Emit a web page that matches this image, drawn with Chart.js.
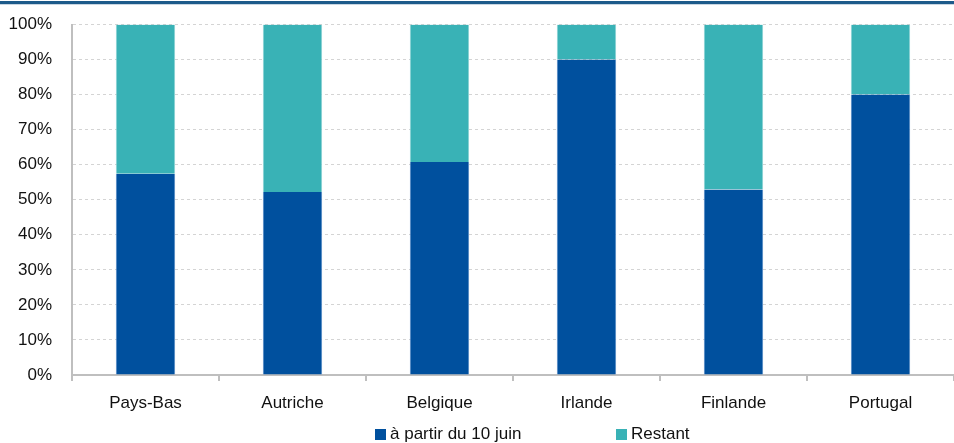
<!DOCTYPE html>
<html lang="fr">
<head>
<meta charset="utf-8">
<script src="https://cdn.jsdelivr.net/npm/chart.js@4/dist/chart.umd.min.js"></script>
<style>
  html, body { margin: 0; padding: 0; background: #fff; }
  #wrap { position: relative; width: 954px; height: 443px; overflow: hidden; }
  #topline { position: absolute; left: 0; right: 0; top: 1px; height: 3px; background: #1d5a8a; border-bottom: 1px solid #c9d6e2; }
  #legend { position: absolute; top: 424px; left: 0; width: 954px; height: 20px;
    font: 17px "Liberation Sans", Arial, sans-serif; color: #111; }
  .item { position: absolute; top: 0; line-height: 20px; white-space: nowrap; }
  .box { display: inline-block; width: 11px; height: 11px; margin-right: 4px; vertical-align: -1px; }
</style>
</head>
<body>
<div id="wrap">
  <div id="topline"></div>
  <canvas id="chart" width="954" height="443"></canvas>
  <div id="legend"></div>
</div>
<script>
const countries = ["Pays-Bas", "Autriche", "Belgique", "Irlande", "Finlande", "Portugal"];
const fromJune10 = [57.4, 52.2, 60.8, 90.0, 52.9, 80.0];
const remaining = [42.6, 47.8, 39.2, 10.0, 47.1, 20.0];
const seriesNames = ["à partir du 10 juin", "Restant"];

const darkBlue = "#00509e";
const teal = "#39b2b6";
const axisColor = "#bfbfbf";
const textFont = { family: "'Liberation Sans', Arial, sans-serif", size: 17 };

new Chart(document.getElementById("chart"), {
  type: "bar",
  data: {
    labels: countries,
    datasets: [
      {
        label: seriesNames[0],
        data: fromJune10,
        backgroundColor: darkBlue,
        borderColor: "#4f86c2",
        borderWidth: { left: 1, right: 1, top: 0, bottom: 0 },
        barPercentage: 0.404,
        categoryPercentage: 1,
      },
      {
        label: seriesNames[1],
        data: remaining,
        backgroundColor: teal,
        borderColor: "#86d0d2",
        borderWidth: { left: 1, right: 1, top: 0, bottom: 0 },
        barPercentage: 0.404,
        categoryPercentage: 1,
      },
    ],
  },
  options: {
    responsive: false,
    animation: false,
    layout: { padding: { top: 24.5, right: 0, bottom: 0, left: 0 } },
    plugins: {
      legend: { display: false },
      tooltip: { enabled: false },
    },
    scales: {
      x: {
        stacked: true,
        afterFit: function (scale) {
          scale.height = 68;
          scale.paddingLeft = 0;
          scale.paddingRight = 0;
        },
        grid: {
          offset: true,
          drawOnChartArea: false,
          drawTicks: true,
          tickLength: 6,
          color: axisColor,
          lineWidth: 2,
        },
        border: { color: axisColor, width: 2 },
        ticks: { color: "#111", font: textFont, padding: 12, maxRotation: 0 },
      },
      y: {
        stacked: true,
        min: 0,
        max: 100,
        afterFit: function (scale) {
          scale.width = 72;
          scale.paddingTop = 0;
          scale.paddingBottom = 0;
        },
        grid: { color: "#d4d4d4", lineWidth: 1, drawTicks: false },
        border: { color: axisColor, width: 2, dash: [3, 3] },
        ticks: {
          stepSize: 10,
          color: "#111",
          font: textFont,
          padding: 20,
          callback: function (v) { return v + "%"; },
        },
      },
    },
  },
});

// legend as HTML so it can sit off-centre like the original
const legendEl = document.getElementById("legend");
const legendSpots = [375, 616];
[darkBlue, teal].forEach(function (c, i) {
  const item = document.createElement("div");
  item.className = "item";
  item.style.left = legendSpots[i] + "px";
  item.innerHTML = '<span class="box" style="background:' + c + '"></span>' + seriesNames[i];
  legendEl.appendChild(item);
});
</script>
</body>
</html>
